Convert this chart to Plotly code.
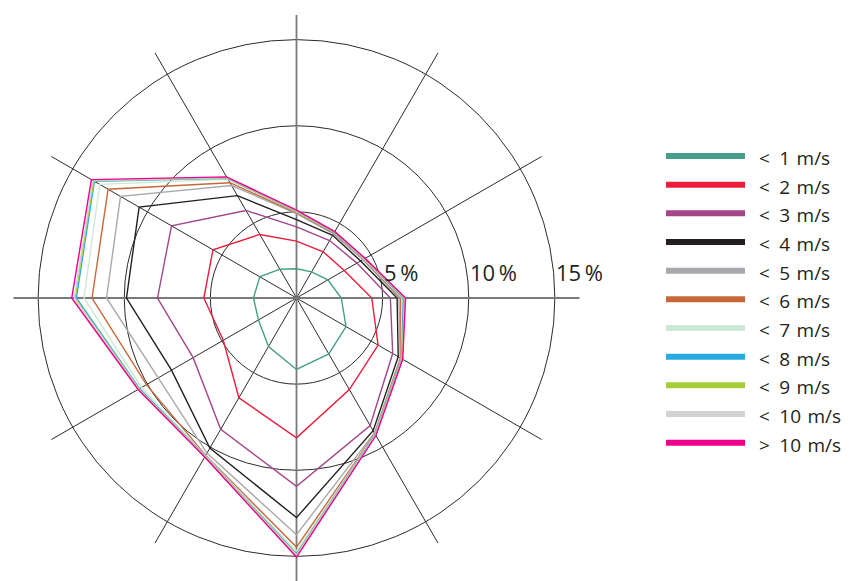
import plotly.graph_objects as go

# Wind directions (degrees, clockwise from north)
DIRECTIONS = [0, 30, 60, 90, 120, 150, 180, 210, 240, 270, 300, 330]

# Cumulative frequency (%) per direction for each wind-speed class
LT1 = [1.70, 1.75, 2.10, 2.60, 3.32, 3.75, 4.15, 3.25, 2.55, 2.50, 2.46, 1.93]
LT2 = [3.30, 3.10, 3.20, 4.37, 5.47, 6.14, 8.12, 6.69, 4.91, 5.38, 5.60, 4.26]
LT3 = [4.13, 3.85, 4.05, 5.45, 6.45, 8.55, 10.93, 8.80, 6.93, 8.07, 8.38, 5.87]
LT4 = [4.55, 4.20, 4.30, 5.84, 6.82, 8.90, 12.75, 10.06, 8.38, 9.87, 10.55, 6.86]
LT5 = [4.90, 4.30, 4.45, 5.95, 6.95, 9.05, 13.74, 10.40, 9.27, 11.03, 11.80, 7.54]
LT6 = [4.95, 4.35, 4.50, 6.05, 7.00, 9.10, 14.46, 10.55, 10.06, 11.87, 12.63, 7.73]
LT7 = [5.00, 4.38, 4.52, 6.12, 7.03, 9.12, 14.70, 10.58, 10.39, 12.34, 13.19, 7.95]
LT8 = [5.03, 4.40, 4.55, 6.20, 7.06, 9.15, 14.85, 10.60, 10.52, 12.78, 13.55, 8.02]
LT9 = [5.05, 4.42, 4.56, 6.26, 7.08, 9.17, 14.90, 10.62, 10.56, 12.86, 13.60, 8.05]
LT10 = [5.07, 4.43, 4.57, 6.30, 7.10, 9.18, 14.94, 10.63, 10.58, 12.90, 13.65, 8.08]
GT10 = [5.10, 4.45, 4.60, 6.33, 7.12, 9.22, 15.04, 10.66, 10.62, 13.05, 13.75, 8.12]

SPEED_CLASSES = ["< 1 m/s", "< 2 m/s", "< 3 m/s", "< 4 m/s", "< 5 m/s", "< 6 m/s",
                 "< 7 m/s", "< 8 m/s", "< 9 m/s", "< 10 m/s", "> 10 m/s"]
SERIES = [LT1, LT2, LT3, LT4, LT5, LT6, LT7, LT8, LT9, LT10, GT10]
COLORS = ["#45a08a", "#ed1c3a", "#a3468a", "#231f20", "#a7a9ac", "#c8683a",
          "#cde8d5", "#29abe2", "#a6ce39", "#d1d3d4", "#ec008c"]

RADIAL_TICKS = [5, 10, 15]

# Page geometry (px)
W, H = 852, 581
CX, CY = 296.5, 298.3
R_PX = 283
RMAX = 16.43
K = R_PX / RMAX  # px per percent

FONT = "Open Sans"

fig = go.Figure()

# Main N-S / E-W axes drawn in grey
fig.add_trace(go.Scatterpolar(
    r=[RMAX, 0, RMAX, None, RMAX, 0, RMAX],
    theta=[0, 0, 180, None, 90, 90, 270],
    mode="lines",
    line=dict(color="#7a7a7a", width=1.8),
    hoverinfo="skip",
    showlegend=False,
))

for name, vals, col in zip(SPEED_CLASSES, SERIES, COLORS):
    fig.add_trace(go.Scatterpolar(
        r=vals + vals[:1],
        theta=DIRECTIONS + DIRECTIONS[:1],
        mode="lines",
        name=name,
        line=dict(color=col, width=1.4),
        showlegend=False,
    ))

x0 = (CX - R_PX) / W
x1 = (CX + R_PX) / W
y1 = (2 * R_PX) / H

fig.update_layout(
    width=W, height=H,
    margin=dict(l=0, r=0, t=0, b=0),
    paper_bgcolor="white",
    plot_bgcolor="white",
    showlegend=False,
    polar=dict(
        domain=dict(x=[x0, x1], y=[0, y1]),
        bgcolor="white",
        angularaxis=dict(
            rotation=90, direction="clockwise",
            tickmode="array", tickvals=DIRECTIONS,
            showticklabels=False, ticks="", showline=False,
            gridcolor="#2b2b2b", gridwidth=1,
        ),
        radialaxis=dict(
            range=[0, RMAX], tickmode="array", tickvals=RADIAL_TICKS,
            showticklabels=False, ticks="", showline=False,
            gridcolor="#2b2b2b", gridwidth=1,
        ),
    ),
)

# Percent labels beside each ring on the east axis
for t in RADIAL_TICKS:
    fig.add_annotation(
        x=(CX + t * K - 1) / W, y=1 - 289 / H,
        xref="paper", yref="paper", xanchor="left", yanchor="bottom",
        text=f"{t}\u2009%", showarrow=False,
        font=dict(family=FONT, size=22, color="#231f20"),
    )

# Legend: thick swatches with labels
ROW0, ROW_STEP = 156, 28.67
for i, (name, col) in enumerate(zip(SPEED_CLASSES, COLORS)):
    yy = ROW0 + i * ROW_STEP
    fig.add_shape(
        type="line", xref="paper", yref="paper",
        x0=666 / W, x1=745 / W, y0=1 - yy / H, y1=1 - yy / H,
        line=dict(color=col, width=6),
    )
    sym, rest = name.split(" ", 1)
    sym = "&lt;" if sym == "<" else "&gt;"
    fig.add_annotation(
        x=757 / W, y=1 - (yy + 2) / H,
        xref="paper", yref="paper", xanchor="left", yanchor="middle",
        text=sym + "\u2002" + rest.replace(" ", "\u2004"),
        showarrow=False,
        font=dict(family=FONT, size=19, color="#231f20"),
    )

fig.write_html("out.html")
